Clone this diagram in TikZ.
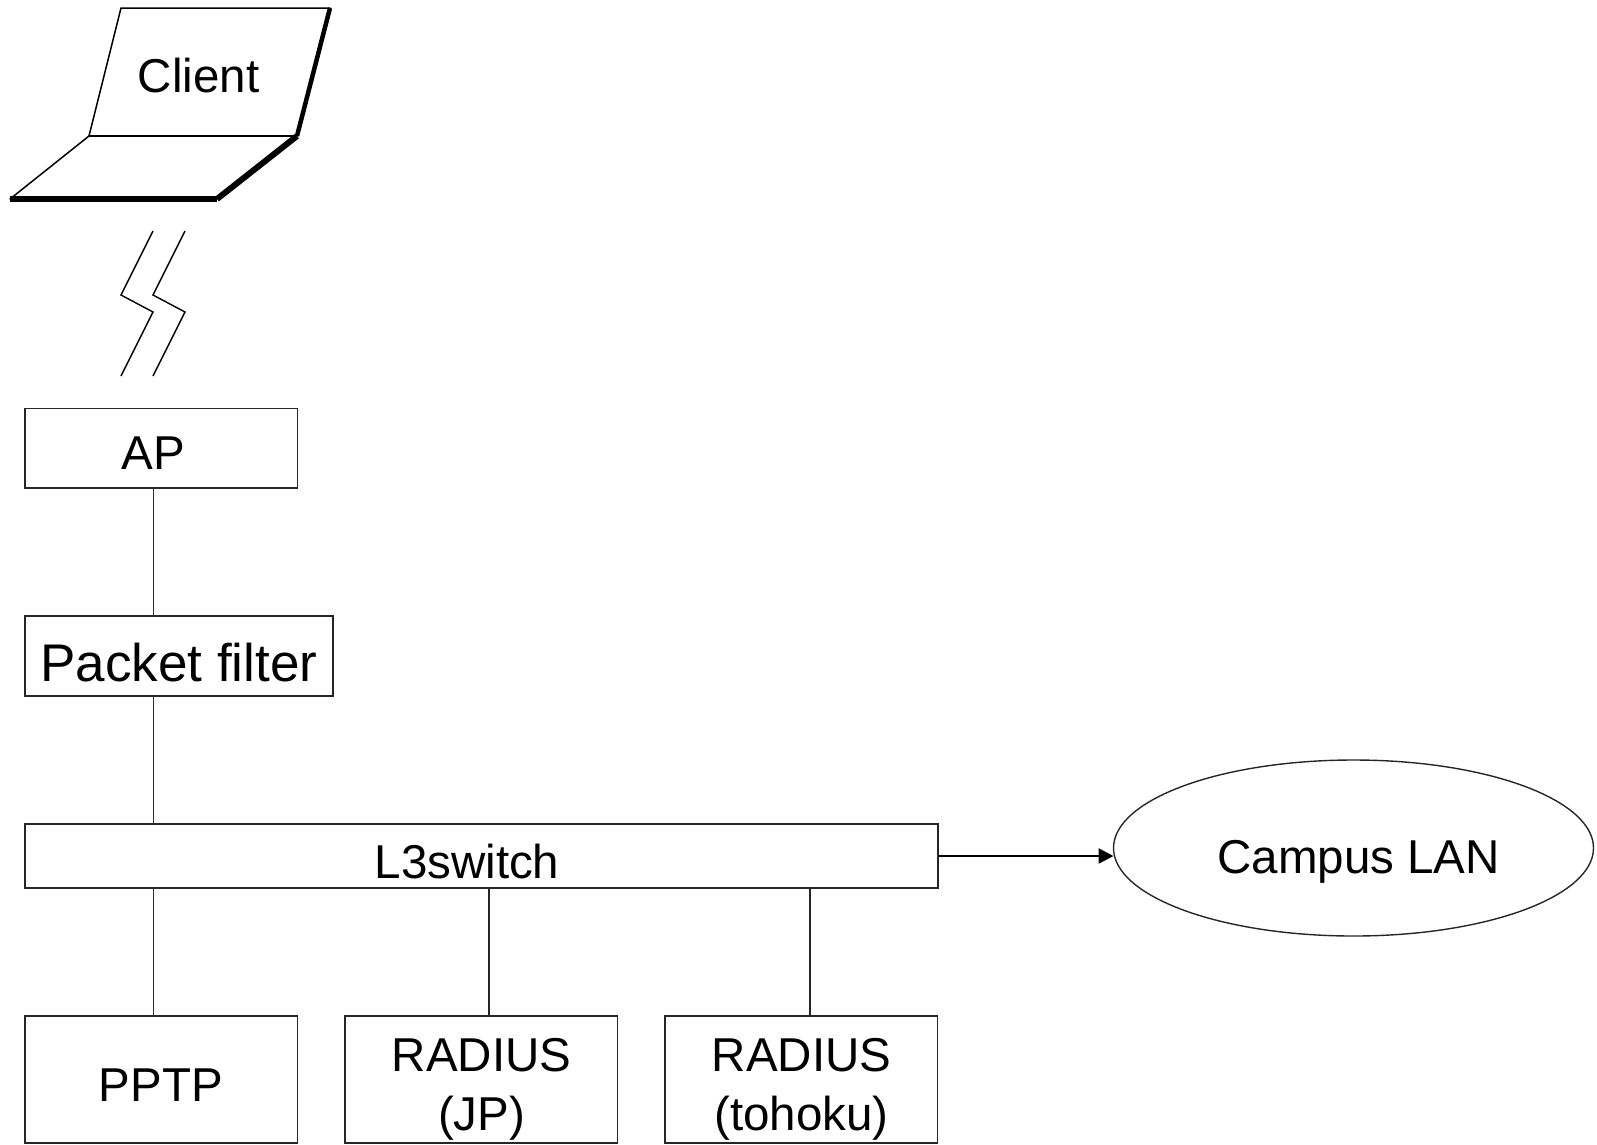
\documentclass[tikz,border=0pt]{standalone}
\usepackage{fontspec}
\setmainfont{Liberation Sans}
\usetikzlibrary{arrows.meta}
\tikzset{
  boxnode/.style={draw=black!85,line width=1.4pt,fill=none,inner sep=0pt,outer sep=0pt},
  lbl/.style={anchor=base,inner sep=0pt,outer sep=0pt,font=\fontsize{47.5pt}{47.5pt}\selectfont},
  link/.style={draw=black!85,line width=1.4pt},
  thin edge/.style={line width=1.5pt,line cap=round,line join=miter},
  thick edge/.style={line width=6pt,line cap=butt},
  bolt/.style={line width=1.4pt,line join=miter},
}
\begin{document}
\begin{tikzpicture}[x=1pt,y=-1pt]
\useasboundingbox (0,0) rectangle (1597,1144);
% laptop
\coordinate (scrTL) at (121,8);
\coordinate (scrTR) at (330,8);
\coordinate (hingeR) at (297,136);
\coordinate (hingeL) at (89,136);
\coordinate (baseL) at (10,199);
\coordinate (baseR) at (217,199);
\draw[thin edge] (hingeL) -- (scrTL) -- (scrTR);
\draw[thin edge] (hingeL) -- (hingeR);
\draw[thin edge] (hingeL) -- (baseL);
\draw[line width=4.5pt] (scrTR) -- (hingeR);
\draw[thick edge] (hingeR) -- (baseR);
\draw[thick edge] (baseL) -- (baseR);
\node[lbl] (client) at (198.6,92.7) {Client};
% radio link
\draw[bolt] (153,231) -- (121,295) -- (153,312) -- (121,376);
\draw[bolt] (185,231) -- (153,295) -- (185,312) -- (153,376);
% boxes
\node[boxnode,minimum width=272.5pt,minimum height=79.5pt] (ap) at (161.25,448.25) {};
\node[boxnode,minimum width=308pt,minimum height=80pt] (filter) at (179,656) {};
\node[boxnode,minimum width=913pt,minimum height=64pt] (l3) at (481.5,856) {};
\node[boxnode,minimum width=272.5pt,minimum height=127pt] (pptp) at (161.25,1079.5) {};
\node[boxnode,minimum width=272.5pt,minimum height=127pt] (rjp) at (481.25,1079.5) {};
\node[boxnode,minimum width=272.5pt,minimum height=127pt] (rto) at (801.25,1079.5) {};
\draw[boxnode] (1353.5,848) ellipse [x radius=240pt,y radius=88pt];
\coordinate (lanW) at (1113.5,856);
% labels
\node[lbl] (aptext) at (153,469.5) {AP};
\node[lbl,font=\fontsize{53pt}{53pt}\selectfont] (filtertext) at (179,681) {Packet filter};
\node[lbl] (l3text) at (467,878) {L3switch};
\node[lbl] (lantext) at (1358.7,873) {Campus LAN};
\node[lbl] (pptptext) at (161,1101) {PPTP};
\node[lbl] (rjp1) at (481.7,1071.5) {RADIUS};
\node[lbl] (rjp2) at (481.7,1130) {(JP)};
\node[lbl] (rto1) at (801.5,1071.5) {RADIUS};
\node[lbl] (rto2) at (801.5,1130) {(tohoku)};
% connectors
\coordinate (xa) at (153.5,0);
\coordinate (xb) at (489,0);
\coordinate (xc) at (810,0);
\draw[link] (ap.south -| xa) -- (filter.north -| xa);
\draw[link] (filter.south -| xa) -- (l3.north -| xa);
\draw[link] (l3.south -| xa) -- (pptp.north -| xa);
\draw[link] (l3.south -| xb) -- (rjp.north -| xb);
\draw[link] (l3.south -| xc) -- (rto.north -| xc);
\draw[line width=2.4pt,-{Triangle[length=15pt,width=15pt]}] (l3.east) -- (lanW);
\end{tikzpicture}
\end{document}
